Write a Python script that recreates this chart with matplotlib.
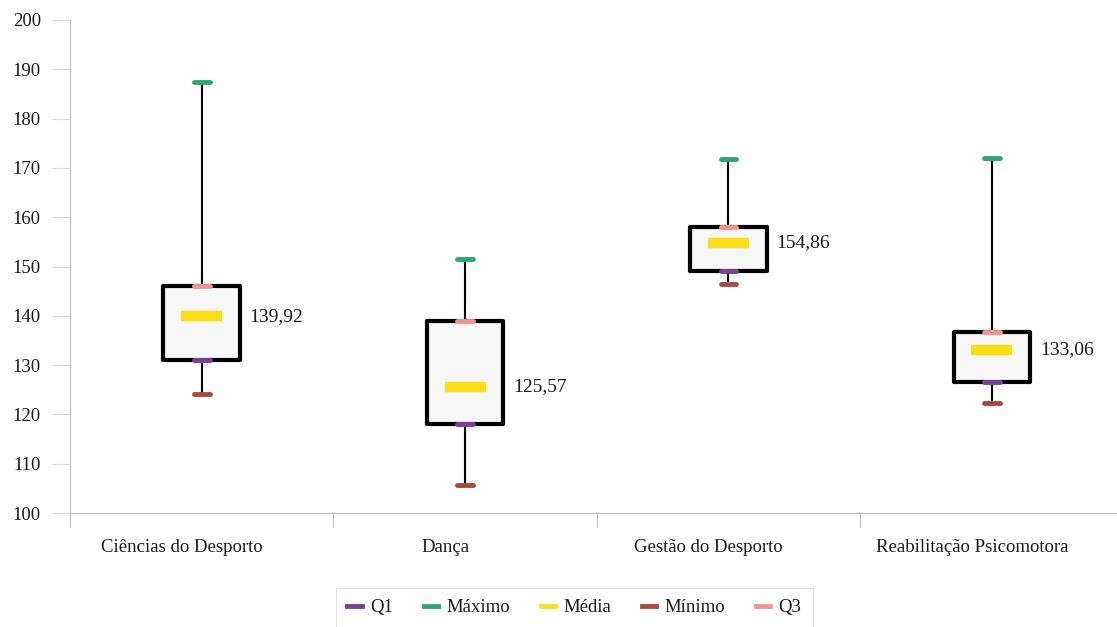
import matplotlib
matplotlib.use("Agg")
import matplotlib.pyplot as plt
from matplotlib.patches import Rectangle
from matplotlib.lines import Line2D

plt.rcParams['font.family'] = ['Liberation Serif', 'DejaVu Serif']

# data
cursos = ["Ciências do Desporto", "Dança", "Gestão do Desporto", "Reabilitação Psicomotora"]
minimo = [124.2, 105.6, 146.5, 122.4]
q1 = [131.0, 118.0, 149.0, 126.6]
media = [139.92, 125.57, 154.86, 133.06]
q3 = [146.0, 139.0, 158.0, 136.8]
maximo = [187.5, 151.5, 171.8, 172.1]

cor_q1 = "#7E3F98"
cor_max = "#2BA874"
cor_media = "#FFDD15"
cor_min = "#A94A3C"
cor_q3 = "#F4958A"

W, H = 1117, 627
fig = plt.figure(figsize=(W / 100, H / 100), dpi=100)
ax = fig.add_axes([70 / W, 114 / H, (1123.5 - 70) / W, 493 / H])

box_w = 0.29
for i in range(len(cursos)):
    x = i + 0.5
    # whisker
    ax.plot([x, x], [minimo[i], maximo[i]], color="black", lw=1.5, zorder=1)
    # box
    ax.add_patch(Rectangle((x - box_w / 2, q1[i]), box_w, q3[i] - q1[i],
                           facecolor="#F7F7F7", edgecolor="black", lw=3,
                           joinstyle="round", zorder=2))
    # markers
    for val, c in [(q1[i], cor_q1), (q3[i], cor_q3), (minimo[i], cor_min), (maximo[i], cor_max)]:
        ax.plot([x - 0.03, x + 0.03], [val, val], color=c, lw=3.5,
                solid_capstyle="round", zorder=3)
    ax.plot([x - 0.078, x + 0.078], [media[i], media[i]], color=cor_media, lw=7.5,
            solid_capstyle="butt", zorder=3)
    ax.annotate(f"{media[i]:.2f}".replace(".", ","), (x + box_w / 2, media[i]),
                xytext=(7, 0), textcoords="offset points", va="center", ha="left",
                fontsize=14, color="#1a1a1a")

ax.set_xlim(0, 4)
ax.set_ylim(100, 200)
ax.set_yticks(range(100, 201, 10))
ax.set_xticks(range(0, 5))
ax.set_xticklabels([])
# category labels sit a little left of the box centres, as in the original
ax.set_xticks([i + 0.5 - 0.075 for i in range(len(cursos))], minor=True)
ax.set_xticklabels(cursos, minor=True)

for s in ["top", "right"]:
    ax.spines[s].set_visible(False)
for s in ["left", "bottom"]:
    ax.spines[s].set_color("#BFBFBF")
    ax.spines[s].set_linewidth(0.8)
ax.tick_params(axis="y", direction="out", length=13, width=0.8, color="#D9D9D9",
               labelsize=13.5, pad=8, labelcolor="#1a1a1a")
ax.tick_params(axis="x", which="major", direction="out", length=10, width=0.8,
               color="#BFBFBF")
ax.tick_params(axis="x", which="minor", length=0, labelsize=13.5, pad=19,
               labelcolor="#1a1a1a")

handles = [Line2D([], [], color=c, lw=3.5) for c in [cor_q1, cor_max, cor_media, cor_min, cor_q3]]
leg = fig.legend(handles, ["Q1", "Máximo", "Média", "Mínimo", "Q3"], ncol=5,
                 loc="upper center", bbox_to_anchor=(574.5 / W, 1 - 588 / H),
                 borderaxespad=0, frameon=True, fancybox=False, edgecolor="#D9D9D9",
                 fontsize=13.5, handlelength=0.75, columnspacing=1.65, handletextpad=0.45,
                 borderpad=0.6, labelcolor="#1a1a1a")
leg.get_frame().set_linewidth(0.8)

fig.savefig("out.png", dpi=100)
